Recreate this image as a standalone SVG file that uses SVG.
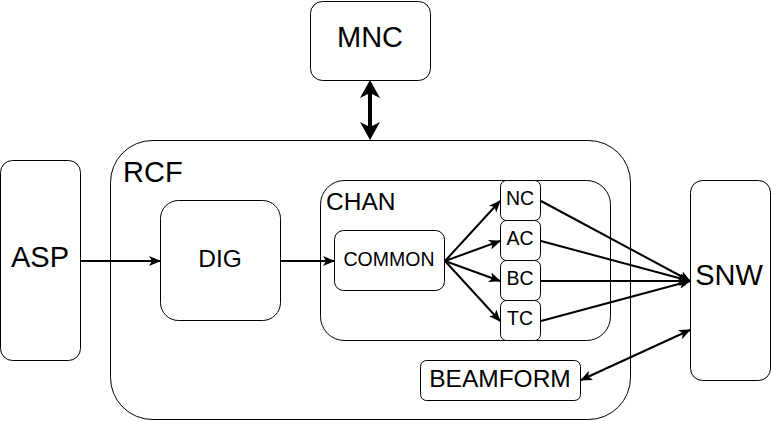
<svg xmlns="http://www.w3.org/2000/svg" width="771" height="421" viewBox="0 0 771 421">
<style>
.box{fill:#fff;stroke:#000;stroke-width:1}
.t{font-family:"Liberation Sans",Arial,sans-serif;fill:#000}
.xl{font-size:29px}
.lg{font-size:24.5px}
.md{font-size:19.5px}
.c{text-anchor:middle}
.ln{fill:none;stroke:#000;stroke-width:2}
.thick{stroke-width:4}
</style>
<defs>
<marker id="ar" viewBox="0 0 12 10" refX="11" refY="5" markerWidth="12" markerHeight="10" markerUnits="userSpaceOnUse" orient="auto-start-reverse">
<path d="M0,0 L12,5 L0,10 L3,5 Z" fill="#000"/>
</marker>
<marker id="big" viewBox="0 0 18 20" refX="10" refY="10" markerWidth="18" markerHeight="20" markerUnits="userSpaceOnUse" orient="auto-start-reverse">
<path d="M0,0 L18,10 L0,20 L5,10 Z" fill="#000"/>
</marker>
</defs>
<rect width="771" height="421" fill="#fff"/>
<g id="RCF">
<rect class="box" x="110.5" y="140.5" width="520" height="279" rx="42"/>
<text class="t xl" x="123" y="182">RCF</text>
</g>
<g id="MNC">
<rect class="box" x="310.5" y="1.5" width="120" height="79" rx="12"/>
<text class="t xl c" x="370" y="47">MNC</text>
</g>
<g id="ASP">
<rect class="box" x="0.5" y="160.5" width="80" height="200" rx="12"/>
<text class="t xl c" x="40" y="267">ASP</text>
</g>
<g id="SNW">
<rect class="box" x="690.5" y="180.5" width="80" height="200" rx="12"/>
<text class="t xl c" x="729" y="285">SNW</text>
</g>
<g id="DIG">
<rect class="box" x="160.5" y="200.5" width="120" height="120" rx="18"/>
<text class="t lg c" x="220" y="267">DIG</text>
</g>
<g id="CHAN">
<rect class="box" x="320.5" y="180.5" width="290" height="160" rx="24"/>
<text class="t lg" x="326" y="210">CHAN</text>
</g>
<g id="COMMON">
<rect class="box" x="334.5" y="230.5" width="110" height="60" rx="9"/>
<text class="t md c" x="389" y="266">COMMON</text>
</g>
<g id="NC">
<rect class="box" x="500.5" y="180.5" width="40" height="40" rx="6"/>
<text class="t md c" x="520" y="205">NC</text>
</g>
<g id="AC">
<rect class="box" x="500.5" y="220.5" width="40" height="40" rx="6"/>
<text class="t md c" x="520" y="245">AC</text>
</g>
<g id="BC">
<rect class="box" x="500.5" y="260.5" width="40" height="40" rx="6"/>
<text class="t md c" x="520" y="285">BC</text>
</g>
<g id="TC">
<rect class="box" x="500.5" y="300.5" width="40" height="40" rx="6"/>
<text class="t md c" x="520" y="325">TC</text>
</g>
<g id="BEAMFORM">
<rect class="box" x="420.5" y="360.5" width="160" height="40" rx="6"/>
<text class="t lg c" x="500" y="387">BEAMFORM</text>
</g>
<g id="connectors">
<line class="ln thick" x1="370" y1="88" x2="370" y2="132" marker-start="url(#big)" marker-end="url(#big)"/>
<line class="ln" x1="81" y1="261" x2="160" y2="261" marker-end="url(#ar)"/>
<line class="ln" x1="281" y1="261" x2="334" y2="261" marker-end="url(#ar)"/>
<line class="ln" x1="445" y1="261" x2="500" y2="201" marker-end="url(#ar)"/>
<line class="ln" x1="445" y1="261" x2="500" y2="241" marker-end="url(#ar)"/>
<line class="ln" x1="445" y1="261" x2="500" y2="281" marker-end="url(#ar)"/>
<line class="ln" x1="445" y1="261" x2="500" y2="321" marker-end="url(#ar)"/>
<line class="ln" x1="541" y1="201" x2="690" y2="281" marker-end="url(#ar)"/>
<line class="ln" x1="541" y1="241" x2="690" y2="281" marker-end="url(#ar)"/>
<line class="ln" x1="541" y1="281" x2="690" y2="281" marker-end="url(#ar)"/>
<line class="ln" x1="541" y1="321" x2="690" y2="281" marker-end="url(#ar)"/>
<line class="ln" x1="581" y1="380" x2="690" y2="330" marker-start="url(#ar)" marker-end="url(#ar)"/>
</g>
</svg>
